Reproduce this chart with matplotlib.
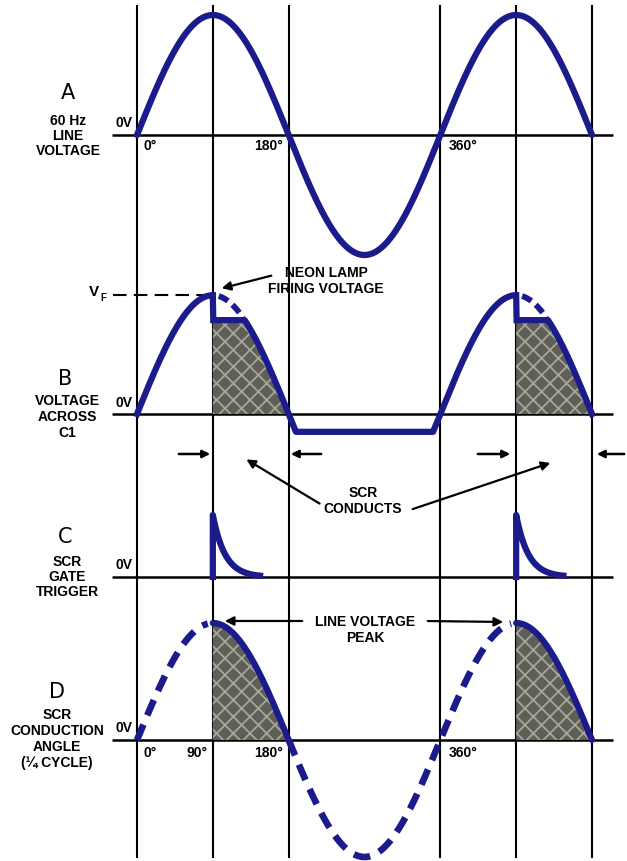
import numpy as np
import matplotlib
matplotlib.use('Agg')
import matplotlib.pyplot as plt

plt.rcParams['font.family'] = ['Liberation Sans', 'DejaVu Sans']
plt.rcParams['hatch.linewidth'] = 1.3

W, H = 627, 861
BLUE = '#1b1b8c'
SHADE = dict(facecolor='#5f5f57', edgecolor='#a6a699', hatch='xx', linewidth=0, zorder=2)

# angle axis: 0 deg sits at 137 px, 540 deg at 592 px
DEG_PER_PX = 540 / (592 - 137)
X_LEFT = -137 * DEG_PER_PX
X_RIGHT = (W - 137) * DEG_PER_PX

# waveform data
grid_angles = [0, 90, 180, 360, 450, 540]
cycle_starts = [0, 360]
firing_level = 0.99      # V_F, neon lamp fires
clamp_level = 0.79       # C1 voltage after firing
neg_clamp = -0.15        # C1 voltage on negative half cycle
bump_span = (97, 126)    # dotted rest of line voltage in B
trigger_tau = 14.5       # gate pulse decay (deg)
trigger_len = 56
d_dashed = [(0, 84), (180, 444)]
d_solid = [(90, 180), (450, 540)]
labels_a = ['0°', '180°', '360°']
labels_a_pos = [0, 180, 360]
labels_d = ['0°', '90°', '180°', '360°']
labels_d_pos = [0, 90, 180, 360]

# zero line row and peak height (px) for each panel
panel_zero = {'A': 135, 'B': 414, 'C': 577, 'D': 740}
panel_amp = {'A': 120, 'B': 120, 'C': 62, 'D': 117}

fig = plt.figure(figsize=(W / 100, H / 100), dpi=100)

base = fig.add_axes([0, 0, 1, 1])
base.set_xlim(0, W)
base.set_ylim(H, 0)
base.axis('off')


def panel_axes(key):
    a = fig.add_axes([0, 0, 1, 1])
    y0, amp = panel_zero[key], panel_amp[key]
    a.set_xlim(X_LEFT, X_RIGHT)
    a.set_ylim(-(H - y0) / amp, y0 / amp)
    a.axis('off')
    a.patch.set_alpha(0)
    return a


axA = panel_axes('A')
axB = panel_axes('B')
axC = panel_axes('C')
axD = panel_axes('D')

# vertical grid lines through every panel
for g in grid_angles:
    axA.axvline(g, ymin=1 - 857 / H, ymax=1 - 6 / H, color='k', lw=1.5, zorder=1)

for a in (axA, axB, axC, axD):
    a.hlines(0, -30, 565, color='k', lw=1.8, zorder=2)

theta = np.linspace(0, 540, 1081)
sine = np.sin(np.radians(theta))

# A: line voltage
axA.plot(theta, sine, color=BLUE, lw=4.5, solid_capstyle='round', zorder=3)

# B: voltage across C1
phase = theta % 360
vb = np.where((phase > 90) & (phase <= 180), np.minimum(sine, clamp_level), sine)
vb = np.where(phase > 180, np.maximum(vb, neg_clamp), vb)
vb = vb * firing_level
for c in cycle_starts:
    m = (theta >= c + 90) & (theta <= c + 180)
    axB.fill_between(theta[m], 0, vb[m], **SHADE)
    tb = np.linspace(c + bump_span[0], c + bump_span[1], 40)
    axB.plot(tb, np.sin(np.radians(tb)) * firing_level, color=BLUE, lw=4.2,
             dashes=(1.8, 1.0), zorder=3)
axB.plot(theta, vb, color=BLUE, lw=4.5, solid_joinstyle='miter', zorder=3)
axB.hlines(firing_level, -28, 83, color='k', lw=1.5, linestyles=(0, (6.5, 3.5)), zorder=2)

# C: gate trigger pulse
for c in cycle_starts:
    tc = np.linspace(c + 90, c + 90 + trigger_len, 80)
    vc = np.exp(-(tc - c - 90) / trigger_tau)
    axC.plot(np.r_[c + 90, tc], np.r_[0, vc], color=BLUE, lw=4.5, zorder=3)

# D: conduction angle
for lo, hi in d_solid:
    m = (theta >= lo) & (theta <= hi)
    axD.fill_between(theta[m], 0, sine[m], **SHADE)
    axD.plot(theta[m], sine[m], color=BLUE, lw=4.5, solid_capstyle='round', zorder=3)
for lo, hi in d_dashed:
    m = (theta >= lo) & (theta <= hi)
    axD.plot(theta[m], sine[m], color=BLUE, lw=4.8, dashes=(2.5, 1.5), zorder=3)

# texts
def px(deg):
    return 137 + deg / DEG_PER_PX

bold = dict(fontsize=10, fontweight='bold', ha='center', va='center')
letter = dict(fontsize=15, family='DejaVu Sans', ha='center', va='center')

base.text(68, 93, 'A', **letter)
for i, s in enumerate(['60 Hz', 'LINE', 'VOLTAGE']):
    base.text(68, 121 + 15 * i, s, **bold)
base.text(65, 379, 'B', **letter)
for i, s in enumerate(['VOLTAGE', 'ACROSS', 'C1']):
    base.text(67, 401 + 16 * i, s, **bold)
base.text(65, 537, 'C', **letter)
for i, s in enumerate(['SCR', 'GATE', 'TRIGGER']):
    base.text(67, 562 + 15 * i, s, **bold)
base.text(57, 692, 'D', **letter)
for i, s in enumerate(['SCR', 'CONDUCTION', 'ANGLE', '(¼ CYCLE)']):
    base.text(57, 715 + 16 * i, s, **bold)

for y in (123, 403, 565, 728):
    base.text(133, y, '0V', fontsize=10, fontweight='bold', ha='right', va='center')

for s, d in zip(labels_a, labels_a_pos):
    xoff = {0: 7, 180: -35, 360: 8}[d]
    base.text(px(d) + xoff, 146, s, fontsize=10, fontweight='bold', ha='left', va='center')
for s, d in zip(labels_d, labels_d_pos):
    xoff = {0: 7, 90: -26, 180: -35, 360: 8}[d]
    base.text(px(d) + xoff, 753, s, fontsize=10, fontweight='bold', ha='left', va='center')

base.text(94, 292, 'V', fontsize=11, fontweight='bold', ha='center', va='center')
base.text(103, 298, 'F', fontsize=7, fontweight='bold', ha='center', va='center')

base.text(326, 281, 'NEON LAMP\nFIRING VOLTAGE', fontsize=10, fontweight='bold',
          ha='center', va='center', linespacing=1.15,
          bbox=dict(facecolor='white', edgecolor='none', pad=1), zorder=5)
base.annotate('', xy=(219, 289), xytext=(274, 275),
              arrowprops=dict(arrowstyle='-|>', color='k', lw=1.6, mutation_scale=13), zorder=6)

# SCR conducts markers
arrow = dict(arrowstyle='-|>', color='k', lw=1.8, mutation_scale=11)
for tail, head in [(176, 213), (324, 288), (475, 513), (627, 594)]:
    base.annotate('', xy=(head, 454), xytext=(tail, 454), arrowprops=arrow)
base.text(363, 501, 'SCR\nCONDUCTS', fontsize=10, fontweight='bold',
          ha='center', va='center', linespacing=1.15)
base.annotate('', xy=(244, 458), xytext=(322, 505),
              arrowprops=dict(arrowstyle='-|>', color='k', lw=1.6, mutation_scale=13))
base.annotate('', xy=(553, 462), xytext=(410, 510),
              arrowprops=dict(arrowstyle='-|>', color='k', lw=1.6, mutation_scale=13))

base.text(365, 630, 'LINE VOLTAGE\nPEAK', fontsize=10, fontweight='bold',
          ha='center', va='center', linespacing=1.25)
base.annotate('', xy=(222, 621), xytext=(305, 621),
              arrowprops=dict(arrowstyle='-|>', color='k', lw=1.6, mutation_scale=13))
base.annotate('', xy=(506, 622), xytext=(425, 621),
              arrowprops=dict(arrowstyle='-|>', color='k', lw=1.6, mutation_scale=13))

fig.savefig('out.png', dpi=100)
